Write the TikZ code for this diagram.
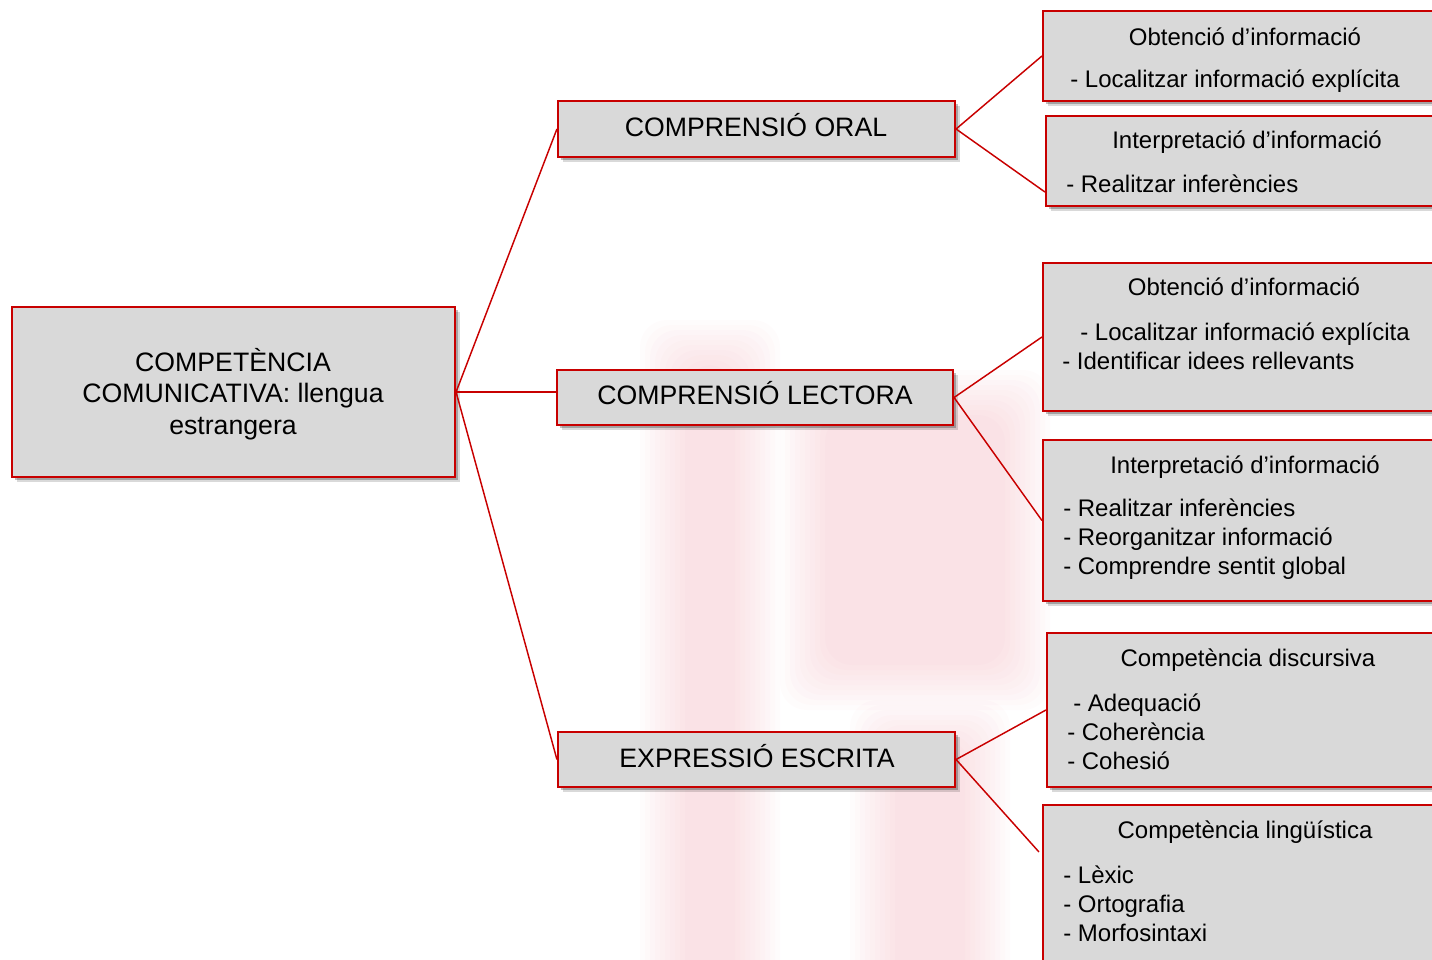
\documentclass[tikz,border=0pt]{standalone}
\usepackage{fontspec}
\setmainfont{Liberation Sans}
\usetikzlibrary{shadows,fit,calc}
\definecolor{boxred}{RGB}{200,0,0}
\definecolor{boxgray}{RGB}{217,217,217}
\definecolor{wmpink}{RGB}{232,120,135}
\begin{document}
\begin{tikzpicture}[x=0.75pt,y=-0.75pt,
  box/.style={draw=boxred, line width=1.6pt, fill=boxgray, inner sep=0pt,
    drop shadow={shadow xshift=3.4pt, shadow yshift=-3.4pt, opacity=0.15, fill=black},
    drop shadow={shadow xshift=2.2pt, shadow yshift=-2.2pt, opacity=0.25, fill=black}},
  link/.style={draw=boxred, line width=1.1pt},
  big/.style={font=\fontsize{20}{23.6}\selectfont, inner sep=0pt},
  small/.style={font=\fontsize{18}{21.75}\selectfont, inner sep=0pt},
  wm/.style={fill=wmpink, fill opacity=0.025, draw=none, rounded corners=20pt},
]
\clip (0,0) rectangle (1432,960);
\useasboundingbox (0,0) rectangle (1432,960);
% faint background watermark
\foreach \i in {0,...,9} {
  \fill[wm] (640+\i*5,320+\i*5) rectangle (780-\i*5,990);
  \fill[wm] (780+\i*5,370+\i*5) rectangle (1050-\i*5,710-\i*5);
  \fill[wm] (850+\i*5,700+\i*5) rectangle (1010-\i*5,990);
}
% boxes
\node[box, fit={(12,307) (455,477)}] (main) {};
\node[box, fit={(558,101) (955,157)}] (oral) {};
\node[box, fit={(557,370) (953,425)}] (lect) {};
\node[box, fit={(558,732) (955,787)}] (escr) {};
\node[box, fit={(1043,11) (1447,101)}] (r1) {};
\node[box, fit={(1046,116) (1447,206)}] (r2) {};
\node[box, fit={(1043,263) (1447,411)}] (r3) {};
\node[box, fit={(1043,440) (1447,601)}] (r4) {};
\node[box, fit={(1047,633) (1447,787)}] (r5) {};
\node[box, fit={(1043,805) (1447,1000)}] (r6) {};
% connectors
\draw[link] (main.east) -- (oral.west);
\draw[link] (main.east) -- (main.east -| lect.west);
\draw[link] (main.east) -- (escr.west);
\draw[link] (oral.east) -- (r1.west);
\draw[link] (oral.east) -- ([yshift=-23.25pt]r2.west);
\draw[link] (lect.east) -- (r3.west);
\draw[link] (lect.east) -- (r4.west);
\draw[link] (escr.east) -- (r5.west);
\draw[link] (escr.east) -- ([xshift=-2.25pt,yshift=-36pt]r6.north west);
% main texts
\node[big, align=center] (tmain) at (233,394) {COMPETÈNCIA\\COMUNICATIVA: llengua\\estrangera};
\node[big, anchor=base] (toral) at (756,136) {COMPRENSIÓ ORAL};
\node[big, anchor=base] (tlect) at (755,404) {COMPRENSIÓ LECTORA};
\node[big, anchor=base] (tescr) at (757,767) {EXPRESSIÓ ESCRITA};
% right box texts
\node[small, anchor=base] (t1a) at (1245,45) {Obtenció d’informació};
\node[small, anchor=base west] (t1b) at (1070,87) {- Localitzar informació explícita};
\node[small, anchor=base] (t2a) at (1247,148) {Interpretació d’informació};
\node[small, anchor=base west] (t2b) at (1066,192) {- Realitzar inferències};
\node[small, anchor=base] (t3a) at (1244,295) {Obtenció d’informació};
\node[small, anchor=base west] (t3b) at (1080,340) {- Localitzar informació explícita};
\node[small, anchor=base west] (t3c) at (1062,369) {- Identificar idees rellevants};
\node[small, anchor=base] (t4a) at (1245,473) {Interpretació d’informació};
\node[small, anchor=base west] (t4b) at (1063,516) {- Realitzar inferències};
\node[small, anchor=base west] (t4c) at (1063,545) {- Reorganitzar informació};
\node[small, anchor=base west] (t4d) at (1063,574) {- Comprendre sentit global};
\node[small, anchor=base] (t5a) at (1248,666) {Competència discursiva};
\node[small, anchor=base west] (t5b) at (1073,711) {- Adequació};
\node[small, anchor=base west] (t5c) at (1067,740) {- Coherència};
\node[small, anchor=base west] (t5d) at (1067,769) {- Cohesió};
\node[small, anchor=base] (t6a) at (1245,838) {Competència lingüística};
\node[small, anchor=base west] (t6b) at (1063,883) {- Lèxic};
\node[small, anchor=base west] (t6c) at (1063,912) {- Ortografia};
\node[small, anchor=base west] (t6d) at (1063,941) {- Morfosintaxi};
\end{tikzpicture}
\end{document}
